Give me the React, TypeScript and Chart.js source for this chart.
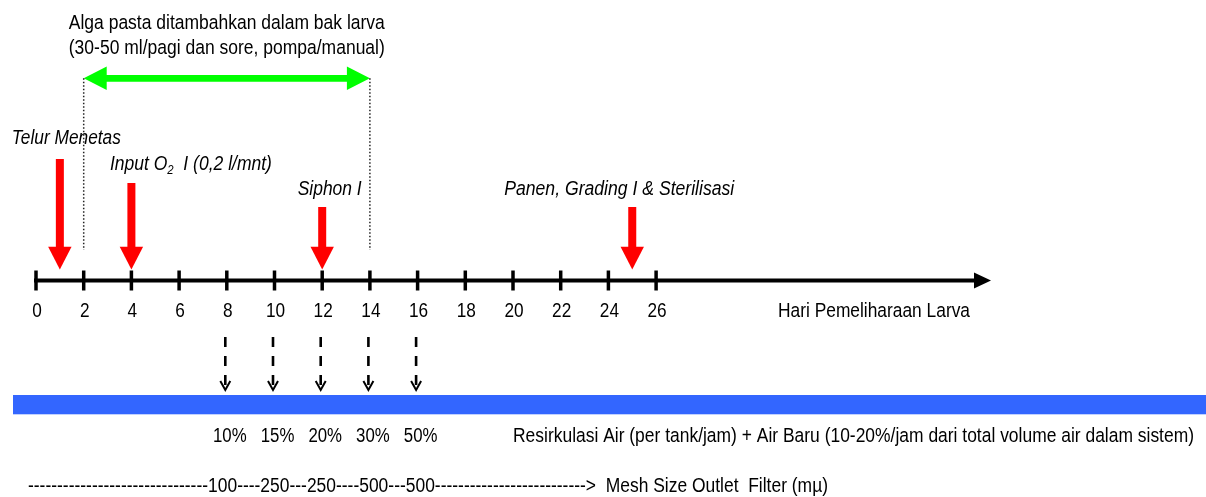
import React, { useEffect, useRef } from "react";
import { Chart, registerables } from "chart.js";

Chart.register(...registerables);

// ---------- data ----------
const dayTicks = [0, 2, 4, 6, 8, 10, 12, 14, 16, 18, 20, 22, 24, 26];
const axisMaxDay = 40;
const axisTitle = "Hari Pemeliharaan Larva";

const eventDays = [1, 4, 12, 25];
const eventLabels = [
  "Telur Menetas",
  "Input O₂  I (0,2 l/mnt)",
  "Siphon I",
  "Panen, Grading I & Sterilisasi",
];

const algaeStartDay = 2;
const algaeEndDay = 14;
const algaeTitle = [
  "Alga pasta ditambahkan dalam bak larva",
  "(30-50 ml/pagi dan sore, pompa/manual)",
];

const exchangeDays = [8, 10, 12, 14, 16];
const exchangeRates = ["10%", "15%", "20%", "30%", "50%"];
const waterLabel =
  "Resirkulasi Air (per tank/jam) + Air Baru (10-20%/jam dari total volume air dalam sistem)";

const meshSizes = ["100", "250", "250", "500", "500"];
const meshSeparators = ["----", "---", "----", "---"];
const meshLead = "-".repeat(31);
const meshTrail = "-".repeat(26) + ">";
const meshLabel = "Mesh Size Outlet  Filter (mµ)";

// ---------- layout (pixels, styles) ----------
const FONT = '"Liberation Sans Narrow", "Arial Narrow", "Liberation Sans", Arial, sans-serif';
const TXT = 20;
const eventShaftTop = [159, 183, 207, 207];
const eventLabelDx = [-48, -21.5, -24.5, -128];
const eventLabelBase = [144, 170, 195, 195];
const eventLabelWidth = [109, 162, 64, 230];

type DrawOpts = { size?: number; italic?: boolean; align?: "left" | "center" | "right"; width?: number; color?: string };

let narrowFactor = 1;
function computeNarrow(ctx: CanvasRenderingContext2D) {
  ctx.save();
  ctx.font = `20px ${FONT}`;
  const w = ctx.measureText("0000000000").width;
  ctx.restore();
  // Arial Narrow digit width is 0.456 em
  narrowFactor = Math.min(1, (0.456 * 20 * 10) / w);
}

function drawText(ctx: CanvasRenderingContext2D, text: string, x: number, y: number, o: DrawOpts = {}) {
  const size = o.size ?? TXT;
  ctx.save();
  ctx.font = `${o.italic ? "italic " : ""}${size}px ${FONT}`;
  ctx.textBaseline = "alphabetic";
  ctx.textAlign = "left";
  ctx.fillStyle = o.color ?? "#000";
  const w = ctx.measureText(text).width;
  const sx = o.width ? o.width / w : narrowFactor;
  const dw = w * sx;
  const left = o.align === "center" ? x - dw / 2 : o.align === "right" ? x - dw : x;
  ctx.translate(left, y);
  ctx.scale(sx, 1);
  ctx.fillText(text, 0, 0);
  ctx.restore();
}

// text with "₂" drawn as a real subscript
function drawRich(ctx: CanvasRenderingContext2D, text: string, x: number, y: number, size: number, italic: boolean, width?: number) {
  const parts = text.split("₂");
  const pieces: { t: string; s: number; dy: number }[] = [];
  parts.forEach((p, i) => {
    if (i > 0) pieces.push({ t: "2", s: size * 0.65, dy: 4 });
    pieces.push({ t: p, s: size, dy: 0 });
  });
  ctx.save();
  ctx.textBaseline = "alphabetic";
  ctx.textAlign = "left";
  ctx.fillStyle = "#000";
  let total = 0;
  const ws = pieces.map((pc) => {
    ctx.font = `${italic ? "italic " : ""}${pc.s}px ${FONT}`;
    const w = ctx.measureText(pc.t).width;
    total += w;
    return w;
  });
  const sx = width ? width / total : narrowFactor;
  ctx.translate(x, y);
  ctx.scale(sx, 1);
  let cx = 0;
  pieces.forEach((pc, i) => {
    ctx.font = `${italic ? "italic " : ""}${pc.s}px ${FONT}`;
    ctx.fillText(pc.t, cx, pc.dy);
    cx += ws[i];
  });
  ctx.restore();
}

const diagramPlugin = {
  id: "diagram",
  afterDraw(chart: any) {
    const ctx: CanvasRenderingContext2D = chart.ctx;
    const xs = chart.scales.x;
    const X = (d: number) => xs.getPixelForValue(d);
    computeNarrow(ctx);

    ctx.save();

    // ---- algae title ----
    const gx1 = X(algaeStartDay);
    const gx2 = X(algaeEndDay);
    const tc = (gx1 + gx2) / 2;
    drawText(ctx, algaeTitle[0], tc, 28.5, { align: "center", width: 316, size: 20.5 });
    drawText(ctx, algaeTitle[1], tc, 53.5, { align: "center", width: 316, size: 20.5 });

    // ---- green double arrow ----
    const gy = 78.3;
    const hl = 23, hh = 11.7, sh = 3.4;
    ctx.fillStyle = "#00FF00";
    ctx.beginPath();
    ctx.moveTo(gx1, gy);
    ctx.lineTo(gx1 + hl, gy - hh);
    ctx.lineTo(gx1 + hl, gy - sh);
    ctx.lineTo(gx2 - hl, gy - sh);
    ctx.lineTo(gx2 - hl, gy - hh);
    ctx.lineTo(gx2, gy);
    ctx.lineTo(gx2 - hl, gy + hh);
    ctx.lineTo(gx2 - hl, gy + sh);
    ctx.lineTo(gx1 + hl, gy + sh);
    ctx.lineTo(gx1 + hl, gy + hh);
    ctx.closePath();
    ctx.fill();

    // ---- dotted guide lines ----
    ctx.strokeStyle = "#222";
    ctx.lineWidth = 1.5;
    ctx.setLineDash([1.5, 2]);
    [gx1, gx2].forEach((gx) => {
      ctx.beginPath();
      ctx.moveTo(gx, gy);
      ctx.lineTo(gx, 250);
      ctx.stroke();
    });
    ctx.setLineDash([]);

    // ---- red event arrows + labels ----
    eventDays.forEach((d, i) => {
      const x = X(d);
      ctx.fillStyle = "#FF0000";
      ctx.fillRect(x - 4, eventShaftTop[i], 8, 247 - eventShaftTop[i]);
      ctx.beginPath();
      ctx.moveTo(x - 11.7, 246.7);
      ctx.lineTo(x + 11.7, 246.7);
      ctx.lineTo(x, 269.5);
      ctx.closePath();
      ctx.fill();
      drawRich(ctx, eventLabels[i], x + eventLabelDx[i], eventLabelBase[i], TXT, true, eventLabelWidth[i]);
    });

    // ---- time axis ----
    const ay = 280.5;
    const xEnd = X(axisMaxDay);
    ctx.strokeStyle = "#000";
    ctx.lineWidth = 4;
    ctx.beginPath();
    ctx.moveTo(X(0) - 2, ay);
    ctx.lineTo(xEnd - 14, ay);
    ctx.stroke();
    ctx.fillStyle = "#000";
    ctx.beginPath();
    ctx.moveTo(xEnd - 16, ay - 8);
    ctx.lineTo(xEnd + 1, ay);
    ctx.lineTo(xEnd - 16, ay + 8);
    ctx.closePath();
    ctx.fill();
    dayTicks.forEach((d) => {
      const x = X(d);
      ctx.lineWidth = 3.5;
      ctx.beginPath();
      ctx.moveTo(x, ay - 10);
      ctx.lineTo(x, ay + 10);
      ctx.stroke();
      drawText(ctx, String(d), x + 1, 316.5, { align: "center", size: 21 });
    });
    drawText(ctx, axisTitle, 778, 316.5, { width: 192, size: 20.5 });

    // ---- dashed water-exchange arrows ----
    exchangeDays.forEach((d) => {
      const x = X(d) - 1.5;
      ctx.strokeStyle = "#000";
      ctx.lineWidth = 2.6;
      ctx.setLineDash([10, 9]);
      ctx.beginPath();
      ctx.moveTo(x, 337);
      ctx.lineTo(x, 388);
      ctx.stroke();
      ctx.setLineDash([]);
      ctx.lineWidth = 2;
      ctx.beginPath();
      ctx.moveTo(x - 5, 381);
      ctx.lineTo(x, 390);
      ctx.lineTo(x + 5, 381);
      ctx.stroke();
    });

    // ---- blue water band ----
    ctx.fillStyle = "#3366FF";
    ctx.fillRect(13, 395, 1206 - 13, 19.3);

    exchangeDays.forEach((d, i) => {
      drawText(ctx, exchangeRates[i], X(d) + 3, 442, { align: "center", size: 20.5 });
    });
    drawText(ctx, waterLabel, 513, 442, { width: 681, size: 20.5 });

    // ---- mesh line ----
    let meshLine = meshLead;
    meshSizes.forEach((m, i) => {
      meshLine += m + (i < meshSeparators.length ? meshSeparators[i] : "");
    });
    meshLine += meshTrail + "  " + meshLabel;
    drawText(ctx, meshLine, 28, 491.5, { width: 800, size: 20.5 });

    ctx.restore();
  },
};

export default function App() {
  const ref = useRef<HTMLCanvasElement>(null);
  useEffect(() => {
    document.body.style.margin = "0";
    const canvas = ref.current!;
    const chart = new Chart(canvas, {
      type: "scatter",
      data: {
        datasets: [
          {
            label: "events",
            data: eventDays.map((d) => ({ x: d, y: 0 })),
            pointRadius: 0,
          },
        ],
      },
      options: {
        animation: false,
        responsive: false,
        events: [],
        layout: { padding: { left: 36, right: 216, top: 0, bottom: 0 } },
        plugins: { legend: { display: false }, tooltip: { enabled: false } },
        scales: {
          x: { type: "linear", min: 0, max: axisMaxDay, display: false },
          y: { min: 0, max: 1, display: false },
        },
      },
      plugins: [diagramPlugin],
    });
    return () => chart.destroy();
  }, []);
  return (
    <div style={{ width: 1206, height: 497, background: "#fff" }}>
      <canvas ref={ref} width={1206} height={497} style={{ display: "block", width: 1206, height: 497 }} />
    </div>
  );
}
